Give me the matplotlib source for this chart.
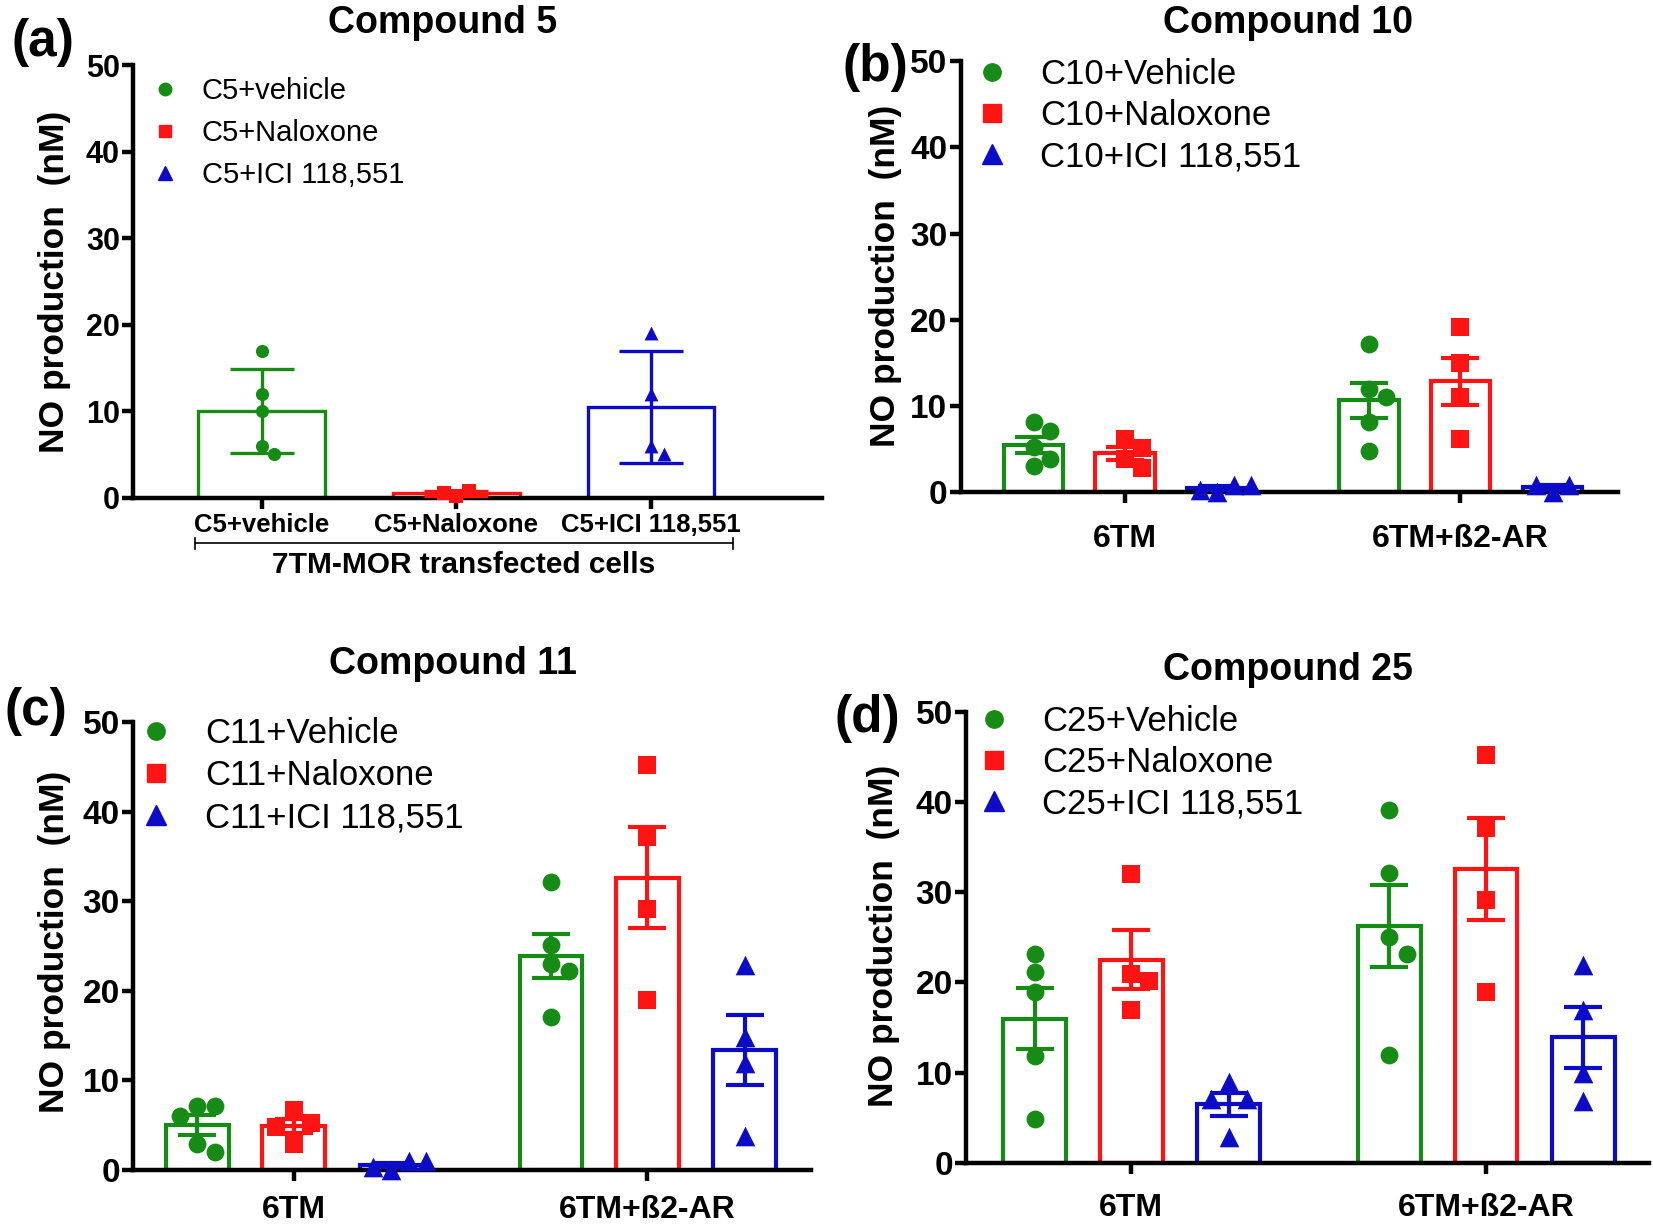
import matplotlib
matplotlib.use('Agg')
import matplotlib.pyplot as plt
import matplotlib.transforms as mtransforms
from matplotlib.lines import Line2D
import numpy as np

plt.rcParams['font.family'] = ['Liberation Sans', 'DejaVu Sans']

GREEN = '#168c16'
RED = '#ff1414'
BLUE = '#0c0cc8'
COLORS = [GREEN, RED, BLUE]
MARKERS = ['o', 's', '^']

# panel (a): compound 5 on 7TM-MOR cells (mean +/- SD)
a_labels = ['C5+vehicle', 'C5+Naloxone', 'C5+ICI 118,551']
a_vehicle = [17, 12, 10, 6, 5]
a_naloxone = [0.2, 0.8, 0.5]
a_ici = [19, 12, 6, 5]

# panels (b)-(d): mean +/- SEM, per group [6TM, 6TM+ß2-AR]
groups = ['6TM', '6TM+ß2-AR']

b_vehicle = [[8.2, 7.1, 5.3, 3.9, 3.0], [17.2, 12.0, 11.1, 8.2, 4.8]]
b_naloxone = [[6.2, 5.1, 3.9, 2.8], [19.2, 15.0, 11.0, 6.2]]
b_ici = [[0.0, 0.9, 0.3, 0.9], [0.0, 0.9, 0.9]]

c_vehicle = [[7.1, 7.1, 6.0, 2.9, 2.0], [32.1, 25.1, 23.0, 22.2, 17.1]]
c_naloxone = [[6.7, 5.3, 4.8, 2.9], [45.2, 37.2, 29.1, 19.0]]
c_ici = [[0.0, 1.0, 0.3, 1.0], [22.9, 14.9, 12.0, 3.8]]

d_vehicle = [[23.1, 21.1, 18.9, 11.8, 4.9], [39.1, 32.1, 25.0, 23.1, 12.0]]
d_naloxone = [[32.0, 20.9, 20.2, 16.9], [45.2, 37.1, 29.1, 18.9]]
d_ici = [[8.9, 7.1, 7.1, 2.9], [21.9, 16.9, 10.0, 6.9]]


def swarm(vals, ydiam, xstep):
    # simple beeswarm: shift points sideways when they overlap
    placed = []
    offs = []
    for v in vals:
        k = 0
        pos = None
        while pos is None:
            cands = [0.0] if k == 0 else [k * xstep, -k * xstep]
            for c in cands:
                if all(((c - px) / xstep) ** 2 + ((v - py) / ydiam) ** 2 >= 0.999
                       for px, py in placed):
                    pos = c
                    break
            k += 1
        placed.append((pos, v))
        offs.append(pos)
    return np.array(offs)


def style_axes(ax, xlim):
    ax.set_xlim(*xlim)
    ax.set_ylim(0, 50)
    ax.set_yticks([0, 10, 20, 30, 40, 50])
    for s in ['top', 'right']:
        ax.spines[s].set_visible(False)
    for s in ['left', 'bottom']:
        ax.spines[s].set_linewidth(3.2)
    ax.tick_params(axis='both', width=3.2, length=8, direction='out')
    ax.tick_params(axis='y', pad=1.5)
    for lab in ax.get_yticklabels():
        lab.set_fontweight('bold')


def add_legend(ax, labels, size, anchor, ms, spacing, textpad):
    handles = [Line2D([], [], ls='', marker=m, color=c, ms=ms * (1.15 if m == '^' else 1.0))
               for m, c in zip(MARKERS, COLORS)]
    ax.legend(handles, labels, loc='upper left', bbox_to_anchor=anchor,
              frameon=False, prop={'size': size}, handletextpad=textpad,
              labelspacing=spacing, borderaxespad=0, handlelength=1.0)


fig = plt.figure(figsize=(16.53, 12.24), dpi=100)

# ---- panel (a)
axa = fig.add_axes([0.0805, 0.5935, 0.417, 0.353])
a_sets = [a_vehicle, a_naloxone, a_ici]
for i, vals in enumerate(a_sets):
    m = np.mean(vals)
    sd = np.std(vals, ddof=1)
    axa.bar(i, m, 0.65, facecolor='white', edgecolor=COLORS[i], linewidth=2.4, zorder=2)
    axa.errorbar(i, m, yerr=sd, color=COLORS[i], capsize=23, elinewidth=2.4,
                 capthick=2.4, zorder=3)
    xo = swarm(vals, 1.5, 0.065)
    axa.scatter(i + xo, vals, s=100 if i == 2 else 90, marker=MARKERS[i], color=COLORS[i],
                zorder=4, clip_on=False, linewidths=0)
style_axes(axa, (-0.66, 2.88))
axa.set_xticks([0, 1, 2])
axa.set_xticklabels(a_labels, fontsize=18.5, fontweight='bold')
axa.tick_params(axis='y', labelsize=22)
axa.tick_params(axis='x', pad=3)
add_legend(axa, a_labels, 21, (0.008, 1.0), 9, 0.48, 0.76)
tr = mtransforms.blended_transform_factory(axa.transData, axa.transAxes)
axa.plot([-0.34, 2.42], [-0.106, -0.106], color='black', lw=1.2, transform=tr, clip_on=False)
for xe in [-0.34, 2.42]:
    axa.plot([xe, xe], [-0.118, -0.094], color='black', lw=1.2, transform=tr, clip_on=False)
axa.text(1.04, -0.157, '7TM-MOR transfected cells', transform=tr, ha='center', va='center',
         fontsize=21.5, fontweight='bold')


# ---- grouped panels
def grouped(ax, series, legend_labels, xlim, pad, anchor, spacing):
    offsets = [-0.272, 0.0, 0.275]
    width = 0.177
    for s, data in enumerate(series):
        for g, vals in enumerate(data):
            x = g + offsets[s]
            m = np.mean(vals)
            se = np.std(vals, ddof=1) / np.sqrt(len(vals))
            ax.bar(x, m, width, facecolor='white', edgecolor=COLORS[s], linewidth=3, zorder=2)
            ax.errorbar(x, m, yerr=se, color=COLORS[s], capsize=14, elinewidth=3,
                        capthick=3, zorder=3)
            xo = swarm(vals, 2.0, 0.05)
            ax.scatter(x + xo, vals, s=200 if s == 2 else 165, marker=MARKERS[s],
                       color=COLORS[s], zorder=4, clip_on=False, linewidths=0)
    style_axes(ax, xlim)
    ax.set_xticks([0, 1])
    ax.set_xticklabels(groups, fontsize=23, fontweight='bold')
    ax.tick_params(axis='y', labelsize=24)
    ax.tick_params(axis='x', pad=pad)
    add_legend(ax, legend_labels, 25, anchor, 12.5, spacing, 0.9)


axb = fig.add_axes([0.5811, 0.5978, 0.3977, 0.3523])
grouped(axb, [b_vehicle, b_naloxone, b_ici], ['C10+Vehicle', 'C10+Naloxone', 'C10+ICI 118,551'],
        (-0.49, 1.47), 15, (0.0, 1.04), 0.24)

axc = fig.add_axes([0.0805, 0.0441, 0.410, 0.366])
grouped(axc, [c_vehicle, c_naloxone, c_ici], ['C11+Vehicle', 'C11+Naloxone', 'C11+ICI 118,551'],
        (-0.454, 1.462), 10, (-0.012, 1.042), 0.26)

axd = fig.add_axes([0.5844, 0.05, 0.4132, 0.3686])
grouped(axd, [d_vehicle, d_naloxone, d_ici], ['C25+Vehicle', 'C25+Naloxone', 'C25+ICI 118,551'],
        (-0.466, 1.46), 14, (-0.005, 1.046), 0.24)

# titles, y labels, panel letters (positions in reference pixels, 1568-wide view)
W, H = 1653.0, 1224.0
k = W / 1568.0
titles = [('Compound 5', 420, 22), ('Compound 10', 1222, 22),
          ('Compound 11', 430, 630), ('Compound 25', 1222, 636)]
for t, x, y in titles:
    fig.text(x * k / W, 1 - y * k / H, t, ha='center', va='center', fontsize=27, fontweight='bold')

ylabs = [(52, 267), (840, 262), (52, 893), (838, 888)]
for x, y in ylabs:
    fig.text(x * k / W, 1 - y * k / H, 'NO production  (nM)', rotation=90, ha='center',
             va='center', fontsize=25.5, fontweight='bold')

letters = [('(a)', 41, 40), ('(b)', 830, 64), ('(c)', 34, 675), ('(d)', 823, 682)]
for t, x, y in letters:
    fig.text(x * k / W, 1 - y * k / H, t, ha='center', va='center', fontsize=37, fontweight='bold')

fig.savefig('out.png', dpi=100)
